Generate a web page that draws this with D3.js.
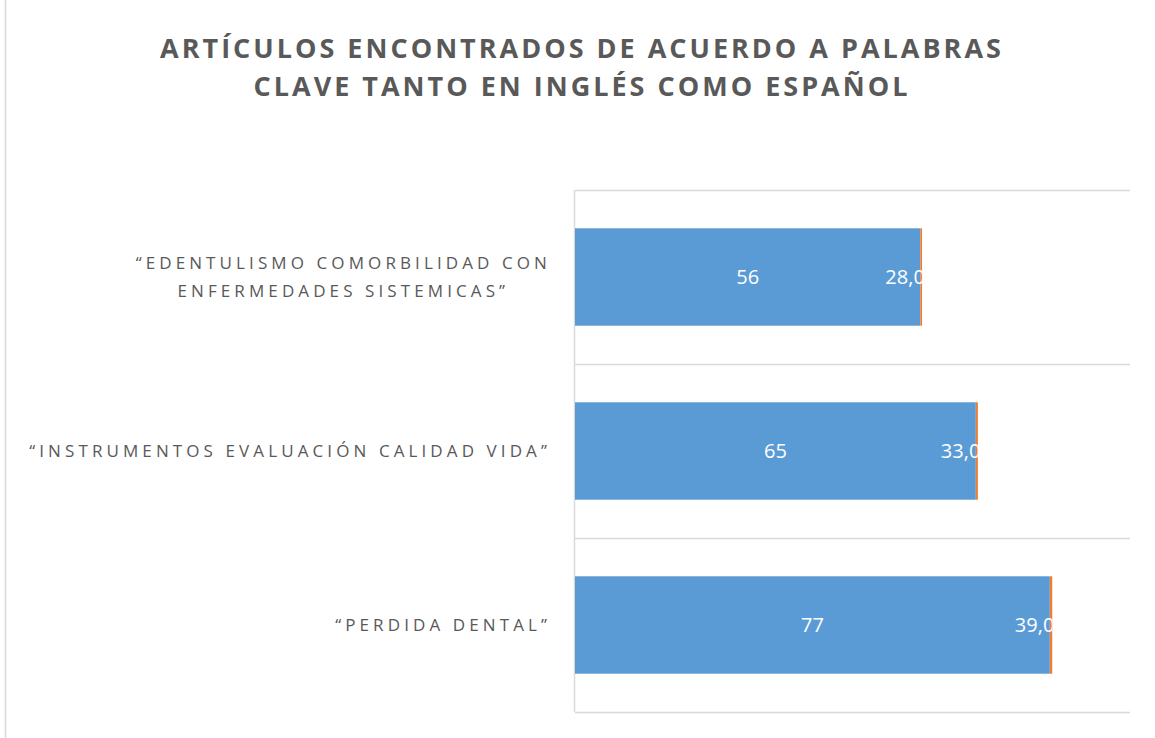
<!DOCTYPE html>
<html>
<head>
<meta charset="utf-8">
<script src="https://cdn.jsdelivr.net/npm/d3@7"></script>
<style>
  body { margin: 0; background: #fff; }
  svg { display: block; }
</style>
</head>
<body>
<div id="chart"></div>
<script>
const categories = [
  ['“EDENTULISMO COMORBILIDAD CON', 'ENFERMEDADES SISTEMICAS”'],
  ['“INSTRUMENTOS EVALUACIÓN CALIDAD VIDA”'],
  ['“PERDIDA DENTAL”']
];
const articulos = [56, 65, 77];
const porcentaje = [0.28, 0.33, 0.39];
const porcentajeLabels = ['28,0%', '33,0%', '39,0%'];
const titleLines = ['ARTÍCULOS ENCONTRADOS DE ACUERDO A PALABRAS', 'CLAVE TANTO EN INGLÉS COMO ESPAÑOL'];

const width = 1155, height = 738;
const margin = { top: 190, right: 25, bottom: 26, left: 575 };
const font = '"Open Sans", "Noto Sans", sans-serif';

const svg = d3.select('#chart').append('svg')
  .attr('width', width)
  .attr('height', height)
  .attr('font-family', font);

// chart border
svg.append('rect')
  .attr('x', 5.5).attr('y', -2)
  .attr('width', width).attr('height', height + 4)
  .attr('fill', 'none')
  .attr('stroke', '#d9d9d9')
  .attr('stroke-width', 1.5);

svg.append('g').selectAll('text')
  .data(titleLines)
  .join('text')
  .attr('x', 582)
  .attr('y', (d, i) => 58 + i * 38)
  .attr('text-anchor', 'middle')
  .attr('font-size', 27)
  .attr('font-weight', 'bold')
  .attr('letter-spacing', 3)
  .attr('fill', '#595959')
  .text(d => d);

const x = d3.scaleLinear()
  .domain([0, 90])
  .range([margin.left, width - margin.right]);

const y = d3.scaleBand()
  .domain(d3.range(categories.length))
  .range([margin.top, height - margin.bottom])
  .paddingInner(0.44)
  .paddingOuter(0.22);

// category separators
const seps = d3.range(categories.length + 1).map(i => margin.top + i * (height - margin.bottom - margin.top) / categories.length);
svg.append('g').selectAll('line')
  .data(seps)
  .join('line')
  .attr('x1', x(0)).attr('x2', x(90))
  .attr('y1', d => Math.round(d) + 0.5).attr('y2', d => Math.round(d) + 0.5)
  .attr('stroke', '#d9d9d9')
  .attr('stroke-width', 1.5);

svg.append('line')
  .attr('x1', x(0) - 0.5).attr('x2', x(0) - 0.5)
  .attr('y1', margin.top).attr('y2', height - margin.bottom)
  .attr('stroke', '#d9d9d9')
  .attr('stroke-width', 1.5);

const rows = categories.map((c, i) => ({ i, label: c, a: articulos[i], p: porcentaje[i], pl: porcentajeLabels[i] }));

const defs = svg.append('defs');
rows.forEach(d => {
  defs.append('clipPath').attr('id', 'clip' + d.i)
    .append('rect')
    .attr('x', x(0)).attr('y', y(d.i))
    .attr('width', x(d.a + d.p) - x(0))
    .attr('height', y.bandwidth());
});

const g = svg.append('g');

g.selectAll('rect.blue')
  .data(rows)
  .join('rect')
  .attr('class', 'blue')
  .attr('x', x(0))
  .attr('y', d => y(d.i))
  .attr('width', d => x(d.a) - x(0))
  .attr('height', y.bandwidth())
  .attr('fill', '#5b9bd5');

g.selectAll('rect.orange')
  .data(rows)
  .join('rect')
  .attr('class', 'orange')
  .attr('x', d => x(d.a))
  .attr('y', d => y(d.i))
  .attr('width', d => x(d.a + d.p) - x(d.a))
  .attr('height', y.bandwidth())
  .attr('fill', '#ed7d31');

g.selectAll('text.val')
  .data(rows)
  .join('text')
  .attr('class', 'val')
  .attr('x', d => (x(0) + x(d.a)) / 2)
  .attr('y', d => y(d.i) + y.bandwidth() / 2)
  .attr('dy', '0.35em')
  .attr('text-anchor', 'middle')
  .attr('font-size', 20)
  .attr('fill', '#fff')
  .text(d => d.a);

g.selectAll('text.pct')
  .data(rows)
  .join('text')
  .attr('class', 'pct')
  .attr('clip-path', d => `url(#clip${d.i})`)
  .attr('x', d => x(d.a) - 35)
  .attr('y', d => y(d.i) + y.bandwidth() / 2)
  .attr('dy', '0.35em')
  .attr('text-anchor', 'start')
  .attr('font-size', 20)
  .attr('fill', '#fff')
  .text(d => d.pl);

// category labels, multi-line ones centred on their widest line
const labelRight = 551;
const labels = svg.append('g').selectAll('text')
  .data(rows)
  .join('text')
  .attr('text-anchor', 'middle')
  .attr('font-size', 17)
  .attr('letter-spacing', 4.1)
  .attr('fill', '#595959')
  .attr('y', d => y(d.i) + y.bandwidth() / 2);

labels.selectAll('tspan')
  .data(d => d.label.map((t, j) => ({ t, j, n: d.label.length })))
  .join('tspan')
  .attr('dy', d => d.j === 0 ? `${0.35 - (d.n - 1) * 0.8}em` : '1.6em')
  .text(d => d.t);

labels.each(function () {
  const spans = d3.select(this).selectAll('tspan').nodes();
  const w = d3.max(spans, s => s.getComputedTextLength());
  d3.select(this).selectAll('tspan').attr('x', labelRight - w / 2);
});
</script>
</body>
</html>
